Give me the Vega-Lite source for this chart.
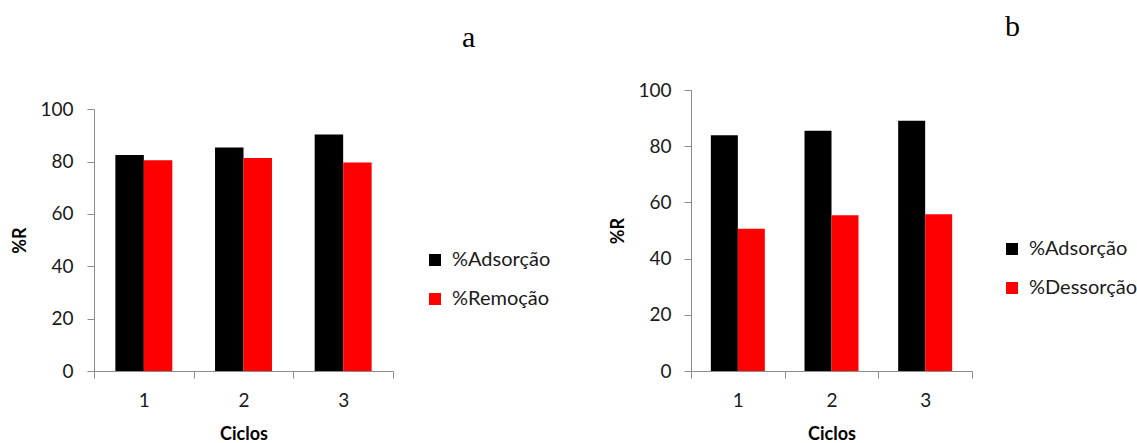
{
  "$schema": "https://vega.github.io/schema/vega-lite/v6.json",
  "padding": {"left": 11, "top": 12, "right": 0, "bottom": 0},
  "background": "white",
  "spacing": 58,
  "config": {
    "view": {"stroke": null},
    "axis": {
      "labelFont": "Lato",
      "titleFont": "Lato",
      "labelFontSize": 19,
      "titleFontSize": 18,
      "titleFontWeight": "bold",
      "labelColor": "#1a1a1a",
      "titleColor": "#000000",
      "domainColor": "#8c8c8c",
      "tickColor": "#8c8c8c",
      "tickSize": 7,
      "grid": false
    },
    "legend": {
      "labelFont": "Lato",
      "labelFontSize": 20,
      "labelColor": "#1a1a1a",
      "symbolType": "square",
      "symbolSize": 144,
      "symbolStrokeWidth": 0,
      "labelOffset": 7,
      "rowPadding": 19,
      "padding": 0,
      "orient": "none"
    },
    "title": {
      "font": "Liberation Serif",
      "fontSize": 30,
      "fontWeight": "normal",
      "color": "#000000",
      "anchor": "start",
      "frame": "group"
    }
  },
  "resolve": {
    "scale": {"x": "independent", "y": "independent", "xOffset": "independent", "color": "independent"},
    "legend": {"color": "independent"}
  },
  "hconcat": [
    {
      "title": {"text": "a", "dx": 368, "offset": 37},
      "width": 299,
      "height": 281,
      "data": {
        "values": [
          {"ciclo": "1", "serie": "%Adsorção", "valor": 82.5},
          {"ciclo": "1", "serie": "%Remoção", "valor": 80.5},
          {"ciclo": "2", "serie": "%Adsorção", "valor": 85.4},
          {"ciclo": "2", "serie": "%Remoção", "valor": 81.4},
          {"ciclo": "3", "serie": "%Adsorção", "valor": 90.4},
          {"ciclo": "3", "serie": "%Remoção", "valor": 79.7}
        ]
      },
      "mark": {"type": "bar"},
      "encoding": {
        "x": {
          "field": "ciclo",
          "type": "nominal",
          "scale": {"paddingInner": 0, "paddingOuter": 0},
          "axis": {"title": "Ciclos", "labelAngle": 0, "tickBand": "extent", "labelPadding": 13, "titlePadding": 15}
        },
        "xOffset": {
          "field": "serie",
          "type": "nominal",
          "sort": ["%Adsorção", "%Remoção"],
          "scale": {"paddingInner": 0, "paddingOuter": 0.75}
        },
        "y": {
          "field": "valor",
          "type": "quantitative",
          "scale": {"domain": [0, 100], "range": [281, 19.3], "nice": false},
          "axis": {"title": "%R", "values": [0, 20, 40, 60, 80, 100], "labelPadding": 14, "titlePadding": 10}
        },
        "color": {
          "field": "serie",
          "type": "nominal",
          "sort": ["%Adsorção", "%Remoção"],
          "scale": {"domain": ["%Adsorção", "%Remoção"], "range": ["#000000", "#ff0000"]},
          "legend": {"title": null, "legendX": 331, "legendY": 160}
        }
      }
    },
    {
      "title": {"text": "b", "dx": 314, "offset": 39},
      "width": 281,
      "height": 281,
      "data": {
        "values": [
          {"ciclo": "1", "serie": "%Adsorção", "valor": 83.9},
          {"ciclo": "1", "serie": "%Dessorção", "valor": 50.6},
          {"ciclo": "2", "serie": "%Adsorção", "valor": 85.5},
          {"ciclo": "2", "serie": "%Dessorção", "valor": 55.4},
          {"ciclo": "3", "serie": "%Adsorção", "valor": 89.1},
          {"ciclo": "3", "serie": "%Dessorção", "valor": 55.8}
        ]
      },
      "mark": {"type": "bar"},
      "encoding": {
        "x": {
          "field": "ciclo",
          "type": "nominal",
          "scale": {"paddingInner": 0, "paddingOuter": 0},
          "axis": {"title": "Ciclos", "labelAngle": 0, "tickBand": "extent", "labelPadding": 13, "titlePadding": 15}
        },
        "xOffset": {
          "field": "serie",
          "type": "nominal",
          "sort": ["%Adsorção", "%Dessorção"],
          "scale": {"paddingInner": 0, "paddingOuter": 0.735}
        },
        "y": {
          "field": "valor",
          "type": "quantitative",
          "scale": {"domain": [0, 100], "nice": false},
          "axis": {"title": "%R", "values": [0, 20, 40, 60, 80, 100], "labelPadding": 13, "titlePadding": 10}
        },
        "color": {
          "field": "serie",
          "type": "nominal",
          "sort": ["%Adsorção", "%Dessorção"],
          "scale": {"domain": ["%Adsorção", "%Dessorção"], "range": ["#000000", "#ff0000"]},
          "legend": {"title": null, "legendX": 311, "legendY": 149}
        }
      }
    }
  ]
}
